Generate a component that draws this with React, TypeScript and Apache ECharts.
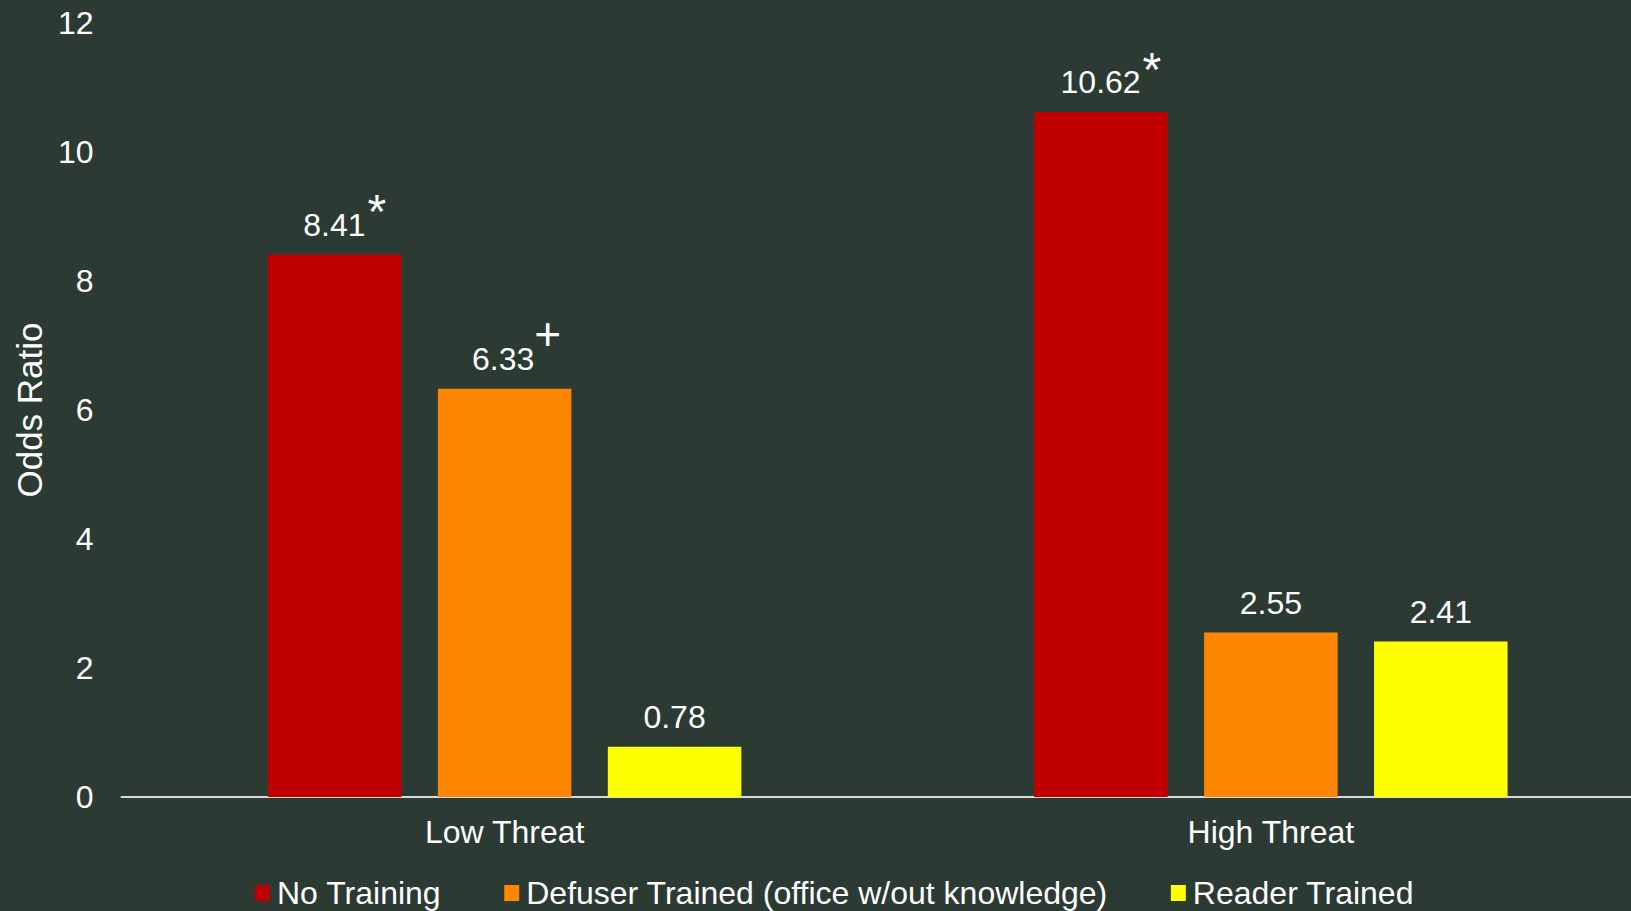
import React, { useEffect, useRef } from "react";
import * as echarts from "echarts";

const categories = ["Low Threat", "High Threat"];
const seriesNames = [
  "No Training",
  "Defuser Trained (office w/out knowledge)",
  "Reader Trained",
];
const noTraining = [8.41, 10.62];
const defuserTrained = [6.33, 2.55];
const readerTrained = [0.78, 2.41];
const noTrainingMarks = ["*", "*"];
const defuserMarks = ["+", ""];
const readerMarks = ["", ""];
const yTicks = { min: 0, max: 12, interval: 2 };

const colors = ["#c00000", "#ff8600", "#ffff00"];
const FONT = "'Liberation Sans', Arial, sans-serif";

function makeLabel(marks: string[]) {
  return {
    show: true,
    position: "top",
    distance: 0,
    color: "#ffffff",
    fontFamily: FONT,
    formatter: (p: any) => {
      const val = Number(p.value).toFixed(2);
      const m = marks[p.dataIndex];
      if (m === "*") return `{va|${val}}{a|*}`;
      if (m === "+") return `{vp|${val}}{p|+}`;
      return `{v|${val}}`;
    },
    rich: {
      v: { fontSize: 32, lineHeight: 60, color: "#fff", fontFamily: FONT },
      va: { fontSize: 32, lineHeight: 60, color: "#fff", fontFamily: FONT, padding: [0, 0, 0, 20] },
      vp: { fontSize: 32, lineHeight: 60, color: "#fff", fontFamily: FONT, padding: [0, 0, 0, 24] },
      a: { fontSize: 48, height: 34, verticalAlign: "top", color: "#fff", fontFamily: FONT, padding: [0, 0, 0, 2] },
      p: { fontSize: 46, height: 10, verticalAlign: "top", color: "#fff", fontFamily: FONT },
    },
  };
}

export default function App() {
  const ref = useRef<HTMLDivElement>(null);
  useEffect(() => {
    if (!ref.current) return;
    const chart = echarts.init(ref.current, undefined, { renderer: "svg" });
    const values = [noTraining, defuserTrained, readerTrained];
    const marks = [noTrainingMarks, defuserMarks, readerMarks];
    chart.setOption({
      animation: false,
      backgroundColor: "#2b3a33",
      textStyle: { fontFamily: FONT },
      grid: { left: 121.5, right: 0, top: 23, bottom: 114, containLabel: false },
      legend: {
        left: 250,
        top: 872,
        icon: "rect",
        itemWidth: 15,
        itemHeight: 16,
        itemGap: 63,
        data: seriesNames,
        textStyle: { color: "#fff", fontSize: 32, fontFamily: FONT, padding: [0, 0, 0, 2] },
      },
      xAxis: {
        type: "category",
        data: categories,
        axisLine: { show: true, lineStyle: { color: "#d9d9d9", width: 2 } },
        axisTick: { show: false },
        axisLabel: { color: "#fff", fontSize: 32, margin: 19, fontFamily: FONT },
      },
      yAxis: {
        type: "value",
        min: yTicks.min,
        max: yTicks.max,
        interval: yTicks.interval,
        name: "Odds Ratio",
        nameLocation: "middle",
        nameGap: 73,
        nameTextStyle: { color: "#fff", fontSize: 35, fontFamily: FONT },
        axisLine: { show: false },
        axisTick: { show: false },
        splitLine: { show: false },
        axisLabel: { color: "#fff", fontSize: 32, margin: 28, fontFamily: FONT },
      },
      series: seriesNames.map((name, i) => ({
        name,
        type: "bar",
        data: values[i],
        barWidth: 133.5,
        barGap: "27.3%",
        itemStyle: { color: colors[i] },
        label: makeLabel(marks[i]),
      })),
    });
    return () => chart.dispose();
  }, []);
  return (
    <div
      style={{
        position: "fixed",
        left: 0,
        top: 0,
        width: 1631,
        height: 911,
        overflow: "hidden",
        background: "#2b3a33",
      }}
    >
      <div ref={ref} style={{ width: 1654, height: 911 }} />
    </div>
  );
}
